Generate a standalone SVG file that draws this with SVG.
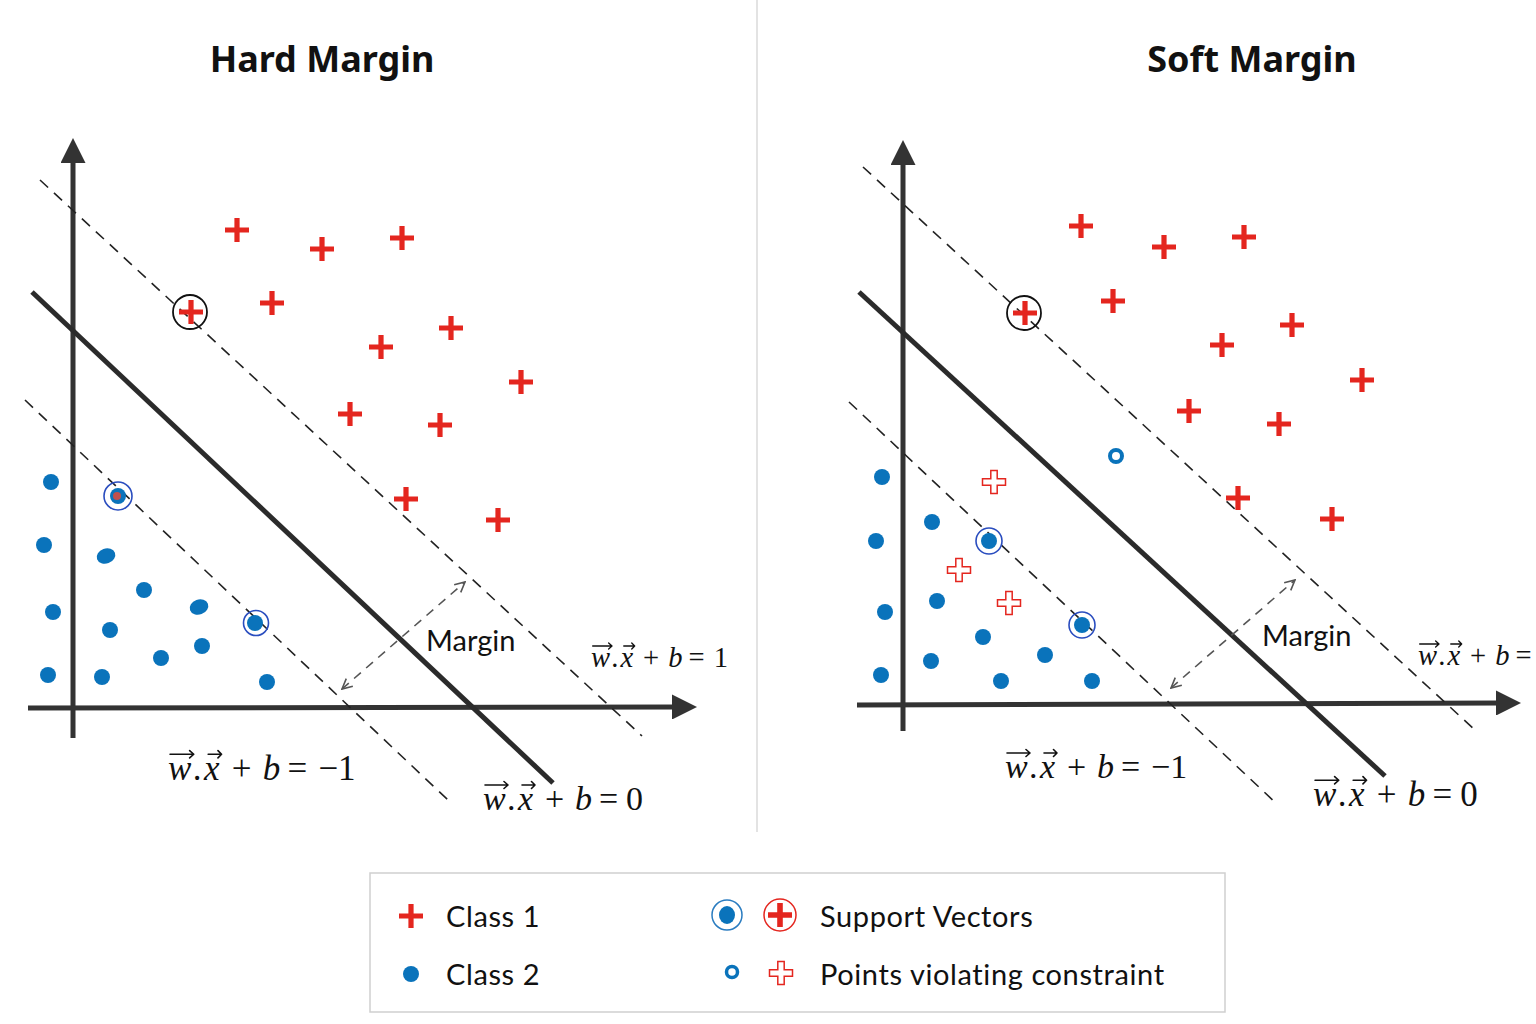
<svg xmlns="http://www.w3.org/2000/svg" xmlns:xlink="http://www.w3.org/1999/xlink" width="1536" height="1024" viewBox="0 0 1536 1024">
<style>
.title{font-family:"Noto Sans","Open Sans",sans-serif;font-weight:700;font-size:36px;fill:#111;text-anchor:middle}
.axis{stroke:#333;stroke-width:5;fill:none}
.hyper{stroke:#2b2b2b;stroke-width:5;fill:none}
.dash{stroke:#222;stroke-width:1.6;stroke-dasharray:11 8;fill:none}
.marg{stroke:#555;stroke-width:1.6;stroke-dasharray:9 7;fill:none}
.lbl{font-family:Lato,"Open Sans",sans-serif;font-size:29px;fill:#111}
.eq text{font-family:"Liberation Serif","DejaVu Serif",serif;font-size:34px;fill:#111}
.vec{fill:none;stroke:#111;stroke-width:1.6;stroke-linecap:round;stroke-linejoin:round}
.it{font-style:italic}
.leg{font-family:Lato,"Open Sans",sans-serif;font-size:29px;letter-spacing:0.6px;fill:#111}
.red{fill:#e4261f}
.blue{fill:#0a73bb}
.svring{fill:none;stroke:#2a4dbf;stroke-width:1.6}
.svblack{fill:none;stroke:#111;stroke-width:1.8}
</style>
<defs>
<path id="cross" class="red" d="M-12,-2.6H12V2.6H-12Z M-2.6,-12H2.6V12H-2.6Z"/>
<path id="ocross" fill="#fff" stroke="#e4261f" stroke-width="1.5" d="M-3.2,-11.5H3.2V-3.2H11.5V3.2H3.2V11.5H-3.2V3.2H-11.5V-3.2H-3.2Z"/>
<circle id="dot" class="blue" r="8"/>
<path id="vecs" class="vec" d="M2,-25H25 M21,-28.5L25,-25L21,-21.5 M39,-25H52 M48.5,-28.5L52,-25L48.5,-21.5"/>
<marker id="axhead" viewBox="0 0 10 10" refX="2" refY="5" markerWidth="5" markerHeight="5" orient="auto" markerUnits="strokeWidth">
<path d="M0,0L10,5L0,10Z" fill="#333"/>
</marker>
<marker id="open" viewBox="0 0 12 12" refX="11" refY="6" markerWidth="12" markerHeight="12" orient="auto-start-reverse" markerUnits="userSpaceOnUse">
<path d="M1,1L11,6L1,11" fill="none" stroke="#555" stroke-width="1.6"/>
</marker>
</defs>
<rect width="1536" height="1024" fill="#fff"/>
<line id="divider" x1="757" y1="0" x2="757" y2="832" stroke="#d0d0d0" stroke-width="1.2"/>

<text class="title" x="322" y="72">Hard Margin</text>
<text class="title" x="1252" y="72">Soft Margin</text>

<!-- connectors: axes, hyperplanes, margins -->
<g id="connectors">
<g id="left-lines">
<line class="axis" x1="73" y1="738" x2="73" y2="158" marker-end="url(#axhead)"/>
<line class="axis" x1="28" y1="708" x2="677" y2="707" marker-end="url(#axhead)"/>
<line class="hyper" x1="32" y1="292" x2="553" y2="783"/>
<line class="dash" x1="40" y1="180" x2="642" y2="736"/>
<line class="dash" x1="25" y1="400" x2="448" y2="800"/>
<line class="marg" x1="342" y1="689" x2="465" y2="582" marker-start="url(#open)" marker-end="url(#open)"/>
</g>
<g id="right-lines">
<line class="axis" x1="903" y1="731" x2="903" y2="160" marker-end="url(#axhead)"/>
<line class="axis" x1="857" y1="705" x2="1501" y2="703" marker-end="url(#axhead)"/>
<line class="hyper" x1="859" y1="292" x2="1385" y2="776"/>
<line class="dash" x1="863" y1="167" x2="1475" y2="730"/>
<line class="dash" x1="849" y1="402" x2="1278" y2="805"/>
<line class="marg" x1="1171" y1="688" x2="1295" y2="580" marker-start="url(#open)" marker-end="url(#open)"/>
</g>
</g>

<!-- labels -->
<text class="lbl" x="426" y="651">Margin</text>
<text class="lbl" x="1262" y="646">Margin</text>

<g id="eq-left-m1" class="eq" transform="translate(168,780) scale(1.03)">
<text><tspan class="it" x="0">w</tspan><tspan x="24">.</tspan><tspan class="it" x="35">x</tspan><tspan x="62">+</tspan><tspan class="it" x="92">b</tspan><tspan x="116">=</tspan><tspan x="146">−1</tspan></text>
<use href="#vecs"/>
</g>
<g id="eq-left-0" class="eq" transform="translate(483,810)">
<text><tspan class="it" x="0">w</tspan><tspan x="24">.</tspan><tspan class="it" x="35">x</tspan><tspan x="62">+</tspan><tspan class="it" x="92">b</tspan><tspan x="116">=</tspan><tspan x="143">0</tspan></text>
<use href="#vecs"/>
</g>
<g id="eq-left-1" class="eq" transform="translate(591,667) scale(0.84)">
<text><tspan class="it" x="0">w</tspan><tspan x="24">.</tspan><tspan class="it" x="35">x</tspan><tspan x="62">+</tspan><tspan class="it" x="92">b</tspan><tspan x="116">=</tspan><tspan x="146">1</tspan></text>
<use href="#vecs"/>
</g>
<g id="eq-right-m1" class="eq" transform="translate(1005,778)">
<text><tspan class="it" x="0">w</tspan><tspan x="24">.</tspan><tspan class="it" x="35">x</tspan><tspan x="62">+</tspan><tspan class="it" x="92">b</tspan><tspan x="116">=</tspan><tspan x="146">−1</tspan></text>
<use href="#vecs"/>
</g>
<g id="eq-right-0" class="eq" transform="translate(1313,806) scale(1.03)">
<text><tspan class="it" x="0">w</tspan><tspan x="24">.</tspan><tspan class="it" x="35">x</tspan><tspan x="62">+</tspan><tspan class="it" x="92">b</tspan><tspan x="116">=</tspan><tspan x="143">0</tspan></text>
<use href="#vecs"/>
</g>
<g id="eq-right-1" class="eq" transform="translate(1418,665) scale(0.84)">
<text><tspan class="it" x="0">w</tspan><tspan x="24">.</tspan><tspan class="it" x="35">x</tspan><tspan x="62">+</tspan><tspan class="it" x="92">b</tspan><tspan x="116">=</tspan></text>
<use href="#vecs"/>
</g>

<!-- left points -->
<g id="left-class1">
<use id="L1a" href="#cross" x="237" y="230"/>
<use id="L1b" href="#cross" x="322" y="249"/>
<use id="L1c" href="#cross" x="402" y="238"/>
<use id="L1d" href="#cross" x="272" y="303"/>
<use id="L1e" href="#cross" x="451" y="328"/>
<use id="L1f" href="#cross" x="381" y="347"/>
<use id="L1g" href="#cross" x="521" y="382"/>
<use id="L1h" href="#cross" x="350" y="414"/>
<use id="L1i" href="#cross" x="440" y="425"/>
<use id="L1j" href="#cross" x="406" y="499"/>
<use id="L1k" href="#cross" x="498" y="520"/>
<g id="L1sv"><circle class="svblack" cx="190" cy="312" r="17"/><use href="#cross" x="191" y="312"/></g>
</g>
<g id="left-class2">
<use id="L2a" href="#dot" x="51" y="482"/>
<use id="L2b" href="#dot" x="44" y="545"/>
<ellipse id="L2c" class="blue" cx="106" cy="556" rx="9.5" ry="7.5" transform="rotate(-20 106 556)"/>
<use id="L2d" href="#dot" x="144" y="590"/>
<ellipse id="L2e" class="blue" cx="199" cy="607" rx="9.5" ry="7.5" transform="rotate(-20 199 607)"/>
<use id="L2f" href="#dot" x="53" y="612"/>
<use id="L2g" href="#dot" x="110" y="630"/>
<use id="L2h" href="#dot" x="202" y="646"/>
<use id="L2i" href="#dot" x="161" y="658"/>
<use id="L2j" href="#dot" x="48" y="675"/>
<use id="L2k" href="#dot" x="102" y="677"/>
<use id="L2l" href="#dot" x="267" y="682"/>
<g id="L2sv1"><circle class="svring" cx="118" cy="496" r="14"/><circle class="blue" cx="118" cy="496" r="8"/><circle cx="117" cy="496" r="4" fill="#c0504d"/></g>
<g id="L2sv2"><circle class="svring" cx="256" cy="623" r="12.5"/><circle class="blue" cx="255" cy="623" r="8"/></g>
</g>

<!-- right points -->
<g id="right-class1">
<use id="R1a" href="#cross" x="1081" y="226"/>
<use id="R1b" href="#cross" x="1164" y="247"/>
<use id="R1c" href="#cross" x="1244" y="237"/>
<use id="R1d" href="#cross" x="1113" y="301"/>
<use id="R1e" href="#cross" x="1292" y="325"/>
<use id="R1f" href="#cross" x="1222" y="345"/>
<use id="R1g" href="#cross" x="1362" y="380"/>
<use id="R1h" href="#cross" x="1189" y="411"/>
<use id="R1i" href="#cross" x="1279" y="424"/>
<use id="R1j" href="#cross" x="1238" y="498"/>
<use id="R1k" href="#cross" x="1332" y="519"/>
<g id="R1sv"><circle class="svblack" cx="1024" cy="313" r="17"/><use href="#cross" x="1025" y="313"/></g>
<use id="R1v1" href="#ocross" x="994" y="482"/>
<use id="R1v2" href="#ocross" x="959" y="570"/>
<use id="R1v3" href="#ocross" x="1009" y="603"/>
</g>
<g id="right-class2">
<use id="R2a" href="#dot" x="882" y="477"/>
<use id="R2b" href="#dot" x="932" y="522"/>
<use id="R2c" href="#dot" x="876" y="541"/>
<use id="R2d" href="#dot" x="937" y="601"/>
<use id="R2e" href="#dot" x="885" y="612"/>
<use id="R2f" href="#dot" x="983" y="637"/>
<use id="R2g" href="#dot" x="1045" y="655"/>
<use id="R2h" href="#dot" x="881" y="675"/>
<use id="R2i" href="#dot" x="931" y="661"/>
<use id="R2j" href="#dot" x="1001" y="681"/>
<use id="R2k" href="#dot" x="1092" y="681"/>
<g id="R2sv1"><circle class="svring" cx="989" cy="541" r="13"/><circle class="blue" cx="989" cy="541" r="8"/></g>
<g id="R2sv2"><circle class="svring" cx="1082" cy="625" r="13"/><circle class="blue" cx="1082" cy="625" r="8"/></g>
<g id="R2v"><circle cx="1116" cy="456" r="6" fill="#fff" stroke="#0a73bb" stroke-width="4"/></g>
</g>

<!-- legend -->
<g id="legend">
<rect x="370" y="873" width="855" height="139" fill="#fff" stroke="#cfcfcf" stroke-width="1.5"/>
<use href="#cross" x="411" y="916"/>
<text class="leg" x="446" y="927">Class 1</text>
<circle class="blue" cx="411" cy="974" r="8"/>
<text class="leg" x="446" y="985">Class 2</text>
<circle cx="727" cy="915" r="15" fill="none" stroke="#2a7cc0" stroke-width="1.5"/>
<ellipse class="blue" cx="727" cy="915" rx="8" ry="9"/>
<circle cx="780" cy="915" r="16" fill="none" stroke="#e4261f" stroke-width="1.5"/>
<path class="red" d="M768,912.2H792V917.8H768Z M777.2,903H782.8V927H777.2Z"/>
<text class="leg" x="820" y="927">Support Vectors</text>
<circle cx="732" cy="972" r="5.5" fill="#fff" stroke="#0a73bb" stroke-width="3.5"/>
<use href="#ocross" x="781" y="973"/>
<text class="leg" x="820" y="985">Points violating constraint</text>
</g>
</svg>
